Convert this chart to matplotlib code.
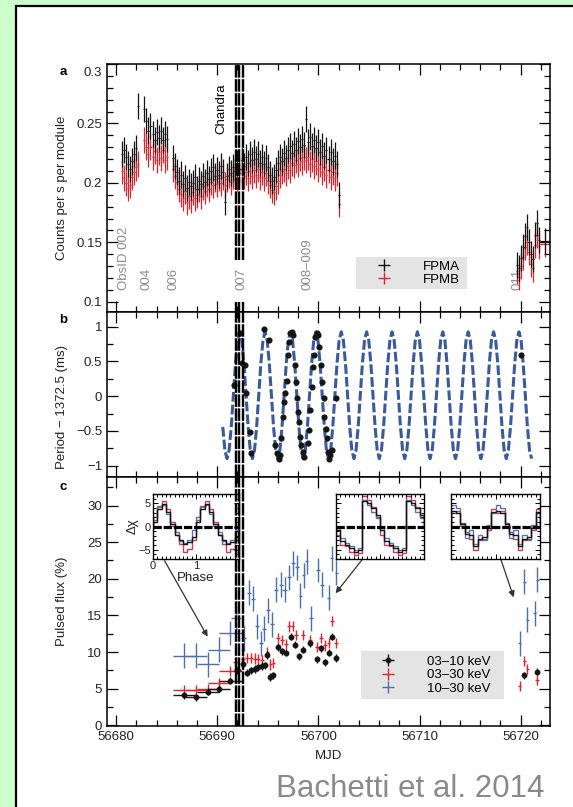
#!/usr/bin/env python3
"""
M82 X-2 NuSTAR timing figure (after Bachetti et al. 2014, Fig. 1)
a: light curve, b: pulse period vs orbit model, c: pulsed fraction
"""

import matplotlib
matplotlib.use('Agg')
import numpy as np
import matplotlib.pyplot as plt
from matplotlib.patches import Rectangle
from matplotlib.lines import Line2D
from matplotlib.legend_handler import HandlerTuple
from matplotlib.ticker import MultipleLocator, FuncFormatter

plt.rcParams['font.family'] = ['Liberation Sans', 'DejaVu Sans']
plt.rcParams['lines.scale_dashes'] = False

# ---------------- panel a: light curve ----------------
LC_MJD = [
    # ObsID 002
    56680.6, 56680.8, 56681.0, 56681.2, 56681.4, 56681.6, 56681.8, 56682.0, 56682.2,
    # 004
    56682.8, 56683.0, 56683.2, 56683.4, 56683.6, 56683.8, 56684.0, 56684.2, 56684.4,
    56684.6, 56684.8, 56685.0,
    # 006 - 009
    56685.6, 56685.8, 56686.0, 56686.2, 56686.4, 56686.6, 56686.8, 56687.0, 56687.2, 56687.4,
    56687.6, 56687.8, 56688.0, 56688.2, 56688.4, 56688.6, 56688.8, 56689.0, 56689.2, 56689.4,
    56689.6, 56689.8, 56690.0, 56690.2, 56690.4, 56690.6, 56690.8, 56691.0, 56691.2, 56691.4,
    56691.6, 56691.8, 56692.0, 56692.2, 56692.4, 56692.6, 56692.8, 56693.0, 56693.2, 56693.4,
    56693.6, 56693.8, 56694.0, 56694.2, 56694.4, 56694.6, 56694.8, 56695.0, 56695.2, 56695.4,
    56695.6, 56695.8, 56696.0, 56696.2, 56696.4, 56696.6, 56696.8, 56697.0, 56697.2, 56697.4,
    56697.6, 56697.8, 56698.0, 56698.2, 56698.4, 56698.6, 56698.8, 56699.0, 56699.2, 56699.4,
    56699.6, 56699.8, 56700.0, 56700.2, 56700.4, 56700.6, 56700.8, 56701.0, 56701.2, 56701.4,
    56701.6, 56701.8, 56702.0,
    # 011
    56719.6, 56719.8, 56720.0, 56720.2, 56720.4, 56720.6, 56720.8, 56721.0, 56721.2, 56721.4,
    56721.6, 56721.8, 56722.4,
]
FPMA_RATE = [
    0.224, 0.228, 0.222, 0.216, 0.212, 0.218, 0.224, 0.229, 0.265,
    0.262, 0.252, 0.244, 0.248, 0.241, 0.236, 0.243, 0.238, 0.244, 0.236, 0.241, 0.237,
    0.221, 0.214, 0.209, 0.202, 0.207, 0.199, 0.204, 0.196, 0.201, 0.197,
    0.200, 0.205, 0.195, 0.202, 0.199, 0.206, 0.201, 0.208, 0.203, 0.210,
    0.213, 0.206, 0.211, 0.207, 0.214, 0.209, 0.184, 0.206, 0.212, 0.208,
    0.213, 0.210, 0.217, 0.212, 0.219, 0.214, 0.222, 0.217, 0.224, 0.219,
    0.226, 0.220, 0.224, 0.217, 0.222, 0.216, 0.221, 0.213, 0.207, 0.202,
    0.205, 0.211, 0.217, 0.222, 0.218, 0.225, 0.221, 0.228, 0.231, 0.225,
    0.233, 0.228, 0.235, 0.230, 0.237, 0.232, 0.254, 0.234, 0.239, 0.231,
    0.236, 0.229, 0.234, 0.226, 0.231, 0.223, 0.228, 0.220, 0.226, 0.218,
    0.223, 0.216, 0.190,
    0.131, 0.128, 0.137, 0.146, 0.155, 0.163, 0.150, 0.140, 0.136, 0.156,
    0.166, 0.152, 0.151,
]
FPMB_RATE = [
    0.210, 0.204, 0.200, 0.196, 0.198, 0.205, 0.209, 0.213, 0.216,
    0.236, 0.230, 0.224, 0.230, 0.222, 0.227, 0.219, 0.226, 0.221, 0.228, 0.219, 0.222,
    0.212, 0.206, 0.201, 0.195, 0.191, 0.187, 0.193, 0.184, 0.189, 0.186,
    0.192, 0.187, 0.190, 0.195, 0.189, 0.197, 0.193, 0.199, 0.195, 0.201,
    0.198, 0.203, 0.199, 0.204, 0.200, 0.205, 0.198, 0.203, 0.207, 0.201,
    0.206, 0.210, 0.204, 0.208, 0.211, 0.206, 0.209, 0.204, 0.210, 0.206,
    0.211, 0.207, 0.212, 0.205, 0.209, 0.204, 0.208, 0.202, 0.198, 0.194,
    0.192, 0.197, 0.202, 0.207, 0.210, 0.212, 0.208, 0.214, 0.211, 0.217,
    0.215, 0.219, 0.216, 0.221, 0.218, 0.222, 0.219, 0.222, 0.216, 0.220,
    0.214, 0.218, 0.212, 0.216, 0.209, 0.213, 0.207, 0.211, 0.205, 0.209,
    0.204, 0.208, 0.182,
    0.126, 0.121, 0.130, 0.138, 0.146, 0.150, 0.142, 0.132, 0.128, 0.148,
    0.156, 0.147, 0.149,
]
LC_YERR = 0.011
LC_BIN_HALF = 0.1
LAST_BIN_HALF = 0.5

OBSIDS = ['ObsID 002', '004', '006', '007', '008\u2013009', '011']
OBSID_MJD = [56680.81, 56682.98, 56685.69, 56692.37, 56698.88, 56719.67]

CHANDRA_MJD = [56691.83, 56692.20, 56692.57]

# ---------------- panel b: period residuals ----------------
PERIOD_MJD = [
    56691.68, 56692.22, 56692.40, 56692.76, 56692.83, 56693.23, 56693.34,
    56694.64, 56695.11,
    56695.73, 56695.91, 56696.09, 56696.20,
    56696.31, 56696.49, 56696.63, 56696.74, 56696.85, 56696.96, 56697.10, 56697.21,
    56697.36, 56697.47,
    56697.65, 56697.83, 56697.90, 56698.01, 56698.12, 56698.19, 56698.30, 56698.44,
    56698.55,
    56698.98, 56699.09, 56699.20, 56699.35, 56699.46, 56699.56, 56699.71, 56699.85,
    56699.93,
    56700.07, 56700.22, 56700.36, 56700.51, 56700.58, 56700.72, 56700.83, 56700.98,
    56701.08, 56701.19, 56701.30,
    56701.74, 56720.08,
]
PERIOD_RES = [
    0.158, 0.901, 0.470, 0.446, 0.038, -0.514, -0.825,
    0.963, 0.805,
    -0.705, -0.825, -0.897, -0.849,
    -0.609, -0.298, -0.082, 0.052, 0.220, 0.589, 0.781, 0.915,
    0.925, 0.877,
    0.446, 0.206, -0.034, -0.226, -0.370, -0.585, -0.705, -0.801,
    -0.873,
    -0.681, -0.490, -0.202, 0.134, 0.422, 0.589, 0.853, 0.901,
    0.877,
    0.709, 0.446, 0.206, -0.034, -0.298, -0.466, -0.609, -0.801,
    -0.897, -0.849, -0.777,
    -0.034, 0.589,
]
PERIOD_ERR = 0.03

# orbital model, read every 1/12 of an orbit
MODEL_START, MODEL_END = 56690.547, 56721.085
PERIOD_MODEL = [
    -0.443, -0.777,
    -0.899, -0.777, -0.443, 0.013, 0.469, 0.803, 0.925, 0.803, 0.469, 0.013, -0.443, -0.777,
    -0.899, -0.777, -0.443, 0.013, 0.469, 0.803, 0.925, 0.803, 0.469, 0.013, -0.443, -0.777,
    -0.899, -0.777, -0.443, 0.013, 0.469, 0.803, 0.925, 0.803, 0.469, 0.013, -0.443, -0.777,
    -0.899, -0.777, -0.443, 0.013, 0.469, 0.803, 0.925, 0.803, 0.469, 0.013, -0.443, -0.777,
    -0.899, -0.777, -0.443, 0.013, 0.469, 0.803, 0.925, 0.803, 0.469, 0.013, -0.443, -0.777,
    -0.899, -0.777, -0.443, 0.013, 0.469, 0.803, 0.925, 0.803, 0.469, 0.013, -0.443, -0.777,
    -0.899, -0.777, -0.443, 0.013, 0.469, 0.803, 0.925, 0.803, 0.469, 0.013, -0.443, -0.777,
    -0.899, -0.777, -0.443, 0.013, 0.469, 0.803, 0.925, 0.803, 0.469, 0.013, -0.443, -0.777,
    -0.899, -0.777, -0.443, 0.013, 0.469, 0.803, 0.925, 0.803, 0.469, 0.013, -0.443, -0.777,
    -0.899, -0.777, -0.443, 0.013, 0.469, 0.803, 0.925, 0.803, 0.469, 0.013, -0.443, -0.777,
    -0.899, -0.777, -0.443, 0.013, 0.469, 0.803, 0.925, 0.803, 0.469, 0.013, -0.443, -0.777,
    -0.899, -0.777, -0.443, 0.013, 0.469, 0.803, 0.925, 0.803, 0.469, 0.013, -0.443, -0.777,
    -0.899,
]

# ---------------- panel c: pulsed fraction ----------------
PF_LO_MJD = [56686.7, 56687.9, 56689.1, 56690.2, 56691.3, 56692.0, 56692.5, 56692.9,
             56693.3, 56693.7, 56694.05, 56694.4, 56694.75, 56694.95, 56695.25, 56695.55,
             56696.0, 56696.4, 56696.8, 56697.25, 56697.7, 56698.1, 56698.5, 56699.2,
             56699.9, 56700.3, 56700.65, 56701.0, 56701.35, 56701.75, 56720.3, 56721.65]
PF_LO = [4.1, 3.8, 4.6, 5.0, 6.1, 7.5, 8.4, 7.2, 7.5, 7.7, 7.9, 8.1, 8.2, 9.6, 6.6, 6.8,
         10.7, 10.1, 9.9, 12.1, 11.0, 9.4, 10.3, 11.2, 9.0, 10.5, 8.6, 9.9, 12.1, 9.2, 6.8, 7.3]
PF_LO_XERR = [1.1, 1.1, 1.1, 1.1, 1.1, 0.3, 0.2, 0.2, 0.2, 0.2, 0.18, 0.18, 0.15, 0.15, 0.15,
              0.15, 0.2, 0.2, 0.2, 0.2, 0.2, 0.2, 0.2, 0.2, 0.2, 0.2, 0.18, 0.18, 0.18, 0.18,
              0.2, 0.2]

PF_MID_MJD = [56686.7, 56687.9, 56689.1, 56690.2, 56691.3, 56691.85, 56692.5, 56692.9,
              56693.3, 56693.7, 56694.05, 56694.4, 56694.95, 56695.25, 56695.55, 56696.0,
              56696.4, 56696.8, 56697.1, 56697.45, 56697.8, 56698.5, 56699.2, 56699.9,
              56700.3, 56700.65, 56701.0, 56701.35, 56701.75, 56719.9, 56720.35, 56720.65,
              56721.65]
PF_MID = [4.8, 4.8, 4.9, 5.8, 7.4, 8.6, 9.1, 9.2, 9.2, 9.1, 9.0, 8.9, 10.0, 8.3, 8.5, 11.9,
          11.6, 11.1, 13.5, 13.6, 12.3, 12.3, 11.6, 10.7, 11.9, 10.9, 11.2, 14.2, 11.2, 5.4,
          8.8, 7.7, 6.2]
PF_MID_XERR = [1.1, 1.1, 1.1, 1.1, 1.1, 0.3, 0.2, 0.2, 0.2, 0.2, 0.18, 0.18, 0.15, 0.15,
               0.15, 0.2, 0.2, 0.2, 0.18, 0.18, 0.18, 0.2, 0.2, 0.2, 0.2, 0.18, 0.18, 0.18,
               0.18, 0.15, 0.15, 0.15, 0.2]

PF_HI_MJD = [56686.7, 56687.9, 56689.1, 56690.2, 56691.3, 56691.85, 56692.6, 56693.1,
             56693.5, 56693.9, 56694.3, 56694.6, 56695.05, 56695.4, 56695.85, 56696.3,
             56696.65, 56697.1, 56697.5, 56697.9, 56698.2, 56698.55, 56698.85, 56699.3,
             56700.0, 56700.35, 56701.0, 56701.3, 56701.75, 56719.9, 56720.35, 56720.65,
             56721.4, 56721.65]
PF_HI = [9.5, 9.5, 8.3, 10.3, 12.6, 14.6, 11.9, 18.1, 17.3, 13.5, 11.2, 13.2, 15.7, 13.8,
         18.5, 19.2, 18.5, 20.2, 22.1, 21.6, 17.7, 20.5, 22.4, 14.6, 21.2, 19.2, 17.4, 22.8,
         20.8, 11.2, 19.6, 14.4, 15.3, 19.9]
PF_HI_XERR = [1.1, 1.1, 1.1, 1.1, 1.1, 0.5, 0.25, 0.2, 0.2, 0.2, 0.2, 0.2, 0.2, 0.2, 0.2,
              0.2, 0.2, 0.2, 0.2, 0.2, 0.15, 0.15, 0.15, 0.2, 0.2, 0.2, 0.15, 0.15, 0.15,
              0.15, 0.15, 0.15, 0.15, 0.15]

PF_LO_ERR, PF_MID_ERR, PF_HI_ERR = 0.5, 0.7, 1.7

# pulse profiles in the insets (Delta chi per phase bin, two cycles)
PHASE_EDGES = [0.0, 0.1, 0.2, 0.3, 0.4, 0.5, 0.6, 0.7, 0.8, 0.9, 1.0,
               1.1, 1.2, 1.3, 1.4, 1.5, 1.6, 1.7, 1.8, 1.9, 2.0]
PROF1_LO = [1.0, 3.8, 4.8, 3.2, 0.6, -1.8, -3.0, -3.8, -3.4, -2.2,
            1.0, 3.8, 4.8, 3.2, 0.6, -1.8, -3.0, -3.8, -3.4, -2.2]
PROF1_MID = [1.5, 4.5, 5.5, 3.8, 1.0, -1.8, -3.8, -5.4, -4.8, -3.0,
             1.5, 4.5, 5.5, 3.8, 1.0, -1.8, -3.8, -5.4, -4.8, -3.0]
PROF1_HI = [2.0, 4.2, 4.6, 2.6, 0.2, -1.2, -3.2, -3.6, -2.8, -0.8,
            2.0, 4.2, 4.6, 2.6, 0.2, -1.2, -3.2, -3.6, -2.8, -0.8]
PROF2_LO = [-0.7, -3.2, -3.9, -4.6, -5.4, -5.0, 5.4, 5.0, 3.9, 2.5,
            -0.7, -3.2, -3.9, -4.6, -5.4, -5.0, 5.4, 5.0, 3.9, 2.5]
PROF2_MID = [-1.8, -3.9, -4.3, -5.4, -6.1, -5.8, 6.6, 5.7, 4.3, 2.1,
             -1.8, -3.9, -4.3, -5.4, -6.1, -5.8, 6.6, 5.7, 4.3, 2.1]
PROF2_HI = [-0.4, -2.5, -3.6, -4.3, -5.0, -4.6, 5.7, 4.6, 3.2, 1.8,
            -0.4, -2.5, -3.6, -4.3, -5.0, -4.6, 5.7, 4.6, 3.2, 1.8]
PROF3_LO = [3.4, 3.0, 0.6, -1.6, -1.8, -4.2, -2.6, -2.2, -0.4, 3.2,
            3.4, 3.0, 0.6, -1.6, -1.8, -4.2, -2.6, -2.2, -0.4, 3.2]
PROF3_MID = [3.0, 3.4, 0.8, -1.2, -2.6, -5.0, -3.0, -2.6, -0.8, 3.8,
             3.0, 3.4, 0.8, -1.2, -2.6, -5.0, -3.0, -2.6, -0.8, 3.8]
PROF3_HI = [4.6, 4.0, 0.2, -2.4, -0.8, -3.8, -1.8, -3.0, 0.4, 3.0,
            4.6, 4.0, 0.2, -2.4, -0.8, -3.8, -1.8, -3.0, 0.4, 3.0]

# inset boxes (MJD, pulsed flux) and arrows pointing to the matching data
INSET_BOXES = [(56683.65, 22.7, 8.51, 8.875),
               (56701.75, 22.7, 8.70, 8.875),
               (56713.13, 22.7, 8.80, 8.875)]
INSET_ARROWS = [((56684.79, 22.47), (56689.05, 12.09)),
                ((56704.30, 22.57), (56701.70, 18.02)),
                ((56718.04, 22.66), (56719.31, 17.47))]

# colours
BLACK = '#151515'
RED = '#e2222c'
BLUE = '#4d70a8'
MODEL_BLUE = '#3a5a9c'
INSET_RED = '#c93a5c'
INSET_BLUE = '#5678ad'
GREY_TXT = '#8c8c8c'
TICK_TXT = '#222222'


def fmt_num(v, pos):
    s = '%g' % round(v, 4)
    return s.replace('-', '\u2212')


def fmt_a(v, pos):
    # the 0.3 label is drawn by hand a little below the top spine
    if v > 0.295:
        return ''
    return fmt_num(v, pos)


def fmt_phase(v, pos):
    # the "2" sits under the Chandra band in the original
    return '' if v > 1.5 else fmt_num(v, pos)


def style(ax):
    ax.tick_params(which='both', direction='in', top=True, right=True,
                   width=0.9, color='black', labelcolor=TICK_TXT,
                   labelsize=9.5, pad=3.5)
    ax.tick_params(which='major', length=8)
    ax.tick_params(which='minor', length=4.5)
    for sp in ax.spines.values():
        sp.set_linewidth(1.1)


def band(ax):
    for x in CHANDRA_MJD:
        ax.axvline(x, color='black', lw=1.75, ls=(0, (9, 1.1)), zorder=6)


def inset(ax, box, lo, mid, hi, labels):
    ins = ax.inset_axes(box, transform=ax.transData)
    ins.stairs(mid, PHASE_EDGES, color=INSET_RED, lw=1.0)
    ins.stairs(hi, PHASE_EDGES, color=INSET_BLUE, lw=1.0)
    ins.stairs(lo, PHASE_EDGES, color=BLACK, lw=1.0)
    ins.axhline(0, color='black', lw=2.3, ls=(0, (6, 1.3)))
    ins.set_xlim(0, 2)
    ins.set_ylim(-7, 7)
    ins.xaxis.set_major_locator(MultipleLocator(1))
    ins.xaxis.set_minor_locator(MultipleLocator(0.1))
    ins.yaxis.set_major_locator(MultipleLocator(5))
    ins.yaxis.set_minor_locator(MultipleLocator(1))
    ins.xaxis.set_major_formatter(FuncFormatter(fmt_phase))
    ins.yaxis.set_major_formatter(FuncFormatter(fmt_num))
    ins.tick_params(which='both', direction='in', top=True, right=True,
                    width=0.7, labelsize=8, labelcolor=TICK_TXT, pad=1.5)
    ins.tick_params(which='major', length=3.5)
    ins.tick_params(which='minor', length=2)
    for sp in ins.spines.values():
        sp.set_linewidth(1.0)
    if labels:
        ins.set_xlabel('Phase', fontsize=9.5, labelpad=1, color=TICK_TXT)
        ins.set_ylabel('\u0394\u03c7', fontsize=9.5, labelpad=0, color=TICK_TXT)
    else:
        ins.tick_params(labelleft=False, labelbottom=False)
    return ins


def main():
    fig = plt.figure(figsize=(5.73, 8.07), dpi=100)
    fig.patch.set_facecolor('#ccffcc')
    fig.add_artist(Rectangle((15.5 / 573, -0.1), 1.2, 1.1 - 6.5 / 807,
                             transform=fig.transFigure, facecolor='white',
                             edgecolor='black', linewidth=1.6, zorder=-5))

    left, width, H = 107 / 573, 443 / 573, 807
    ax_a = fig.add_axes([left, 1 - 312 / H, width, 248 / H])
    ax_b = fig.add_axes([left, 1 - 477 / H, width, 165 / H], sharex=ax_a)
    ax_c = fig.add_axes([left, 1 - 726 / H, width, 249 / H], sharex=ax_a)
    for ax in (ax_a, ax_b, ax_c):
        style(ax)
    ax_a.xaxis.set_major_locator(MultipleLocator(10))
    ax_a.xaxis.set_minor_locator(MultipleLocator(2))
    ax_a.set_xlim(56679.1, 56722.9)
    ax_a.tick_params(labelbottom=False)
    ax_b.tick_params(labelbottom=False)

    # ---- a
    a_ylim = (0.0914, 0.300)
    lc_xerr = [LC_BIN_HALF] * (len(LC_MJD) - 1) + [LAST_BIN_HALF]
    ax_a.errorbar(LC_MJD, FPMB_RATE, yerr=LC_YERR, xerr=lc_xerr, fmt='none',
                  ecolor=RED, elinewidth=0.9, capsize=0, zorder=2)
    ax_a.errorbar(LC_MJD, FPMA_RATE, yerr=LC_YERR, xerr=lc_xerr, fmt='none',
                  ecolor=BLACK, elinewidth=0.9, capsize=0, zorder=2.1)
    ax_a.set_ylim(*a_ylim)
    ax_a.yaxis.set_major_locator(MultipleLocator(0.05))
    ax_a.yaxis.set_minor_locator(MultipleLocator(0.01))
    ax_a.yaxis.set_major_formatter(FuncFormatter(fmt_a))
    ax_a.annotate('0.3', xy=(0, 0.3), xycoords=ax_a.get_yaxis_transform(),
                  xytext=(-3.5, -6.5), textcoords='offset points',
                  ha='right', va='center', fontsize=9.5, color=TICK_TXT)
    band_kw = dict(colors='black', linewidths=1.75, linestyles=[(0, (9, 1.1))], zorder=6)
    ax_a.vlines(CHANDRA_MJD, 0.135, a_ylim[1], **band_kw)
    ax_a.vlines(CHANDRA_MJD, a_ylim[0], 0.100, **band_kw)
    ax_a.text(56690.38, 0.241, 'Chandra', rotation=90, ha='center', va='bottom',
              fontsize=9.5, color='black')
    for lab, t in zip(OBSIDS, OBSID_MJD):
        ax_a.text(t, 0.1098, lab, rotation=90, ha='center', va='bottom',
                  fontsize=9.5, color=GREY_TXT, zorder=1)
    ax_a.add_patch(Rectangle((0.562, 0.093), 0.251, 0.129, transform=ax_a.transAxes,
                             facecolor='#e4e4e4', edgecolor='none', zorder=3))
    h_a = [Line2D([], [], ls='none', marker='+', ms=9, mew=1.0, color=c)
           for c in (BLACK, RED)]
    leg = ax_a.legend(h_a, ['FPMA', 'FPMB'], loc='center left',
                      bbox_to_anchor=(0.562, 0.1575), frameon=False, fontsize=9.5,
                      handlelength=3.4, handletextpad=1.3, labelspacing=0.05,
                      borderpad=0.4, borderaxespad=0)
    leg.set_zorder(4)
    ax_a.set_ylabel('Counts per s per module', fontsize=9.5, color=TICK_TXT)
    ax_a.yaxis.set_label_coords(-0.088, 0.5)

    # ---- b
    model_t = np.linspace(MODEL_START, MODEL_END, len(PERIOD_MODEL))
    ax_b.plot(model_t, PERIOD_MODEL, color=MODEL_BLUE, lw=2.2, ls=(0, (7, 2.2)), zorder=2)
    ax_b.errorbar(PERIOD_MJD, PERIOD_RES, yerr=PERIOD_ERR, fmt='o', ms=3.4,
                  color=BLACK, elinewidth=0.8, capsize=0, zorder=3)
    ax_b.set_ylim(-1.163, 1.21)
    ax_b.yaxis.set_major_locator(MultipleLocator(0.5))
    ax_b.yaxis.set_minor_locator(MultipleLocator(0.25))
    ax_b.yaxis.set_major_formatter(FuncFormatter(fmt_num))
    band(ax_b)
    ax_b.set_ylabel('Period \u2212 1372.5 (ms)', fontsize=9.5, color=TICK_TXT)
    ax_b.yaxis.set_label_coords(-0.088, 0.427)

    # ---- c
    ax_c.errorbar(PF_HI_MJD, PF_HI, yerr=PF_HI_ERR, xerr=PF_HI_XERR, fmt='none',
                  ecolor=BLUE, elinewidth=1.0, capsize=0, zorder=2)
    ax_c.errorbar(PF_MID_MJD, PF_MID, yerr=PF_MID_ERR, xerr=PF_MID_XERR, fmt='none',
                  ecolor=RED, elinewidth=1.0, capsize=0, zorder=2.1)
    ax_c.errorbar(PF_LO_MJD, PF_LO, yerr=PF_LO_ERR, xerr=PF_LO_XERR, fmt='o', ms=3.2,
                  color=BLACK, elinewidth=1.0, capsize=0, zorder=2.2)
    ax_c.set_ylim(-0.1, 33.9)
    ax_c.yaxis.set_major_locator(MultipleLocator(5))
    ax_c.yaxis.set_minor_locator(MultipleLocator(2.5))
    ax_c.yaxis.set_major_formatter(FuncFormatter(fmt_num))
    ax_c.xaxis.set_major_formatter(FuncFormatter(lambda v, p: '%d' % round(v)))
    band(ax_c)
    ax_c.set_ylabel('Pulsed flux (%)', fontsize=9.5, color=TICK_TXT)
    ax_c.yaxis.set_label_coords(-0.088, 0.5)
    ax_c.set_xlabel('MJD', fontsize=9.5, color=TICK_TXT, labelpad=5)

    profiles = [(PROF1_LO, PROF1_MID, PROF1_HI),
                (PROF2_LO, PROF2_MID, PROF2_HI),
                (PROF3_LO, PROF3_MID, PROF3_HI)]
    for i, (box, prof) in enumerate(zip(INSET_BOXES, profiles)):
        inset(ax_c, box, *prof, labels=(i == 0))
    for tail, head in INSET_ARROWS:
        ax_c.annotate('', xy=head, xytext=tail,
                      arrowprops=dict(arrowstyle='-|>', color='#333333', lw=0.9,
                                      mutation_scale=9, shrinkA=0, shrinkB=0))

    ax_c.add_patch(Rectangle((0.5734, 0.1072), 0.322, 0.194, transform=ax_c.transAxes,
                             facecolor='#e4e4e4', edgecolor='none', zorder=3))
    plus = [Line2D([], [], ls='none', marker='+', ms=9, mew=1.0, color=c)
            for c in (BLACK, RED, BLUE)]
    dot = Line2D([], [], ls='none', marker='o', ms=3.2, color=BLACK)
    leg_c = ax_c.legend([(plus[0], dot), plus[1], plus[2]],
                        ['03\u201310 keV', '03\u201330 keV', '10\u201330 keV'],
                        handler_map={tuple: HandlerTuple(ndivide=1)},
                        loc='center left', bbox_to_anchor=(0.5734, 0.2042),
                        frameon=False, fontsize=9.5, handlelength=3.3,
                        handletextpad=1.3, labelspacing=0.08, borderpad=0.4,
                        borderaxespad=0)
    leg_c.set_zorder(4)

    # panel letters
    for ax, lab, y in ((ax_a, 'a', 0.968), (ax_b, 'b', 0.952), (ax_c, 'c', 0.96)):
        ax.text(-0.0993, y, lab, transform=ax.transAxes, ha='center', va='center',
                fontsize=9.5, fontweight='bold', color='black')

    fig.text(544 / 573, 1 - 797.3 / 807, 'Bachetti et al. 2014', ha='right',
             va='baseline', fontsize=22.5, color='#8a8a8a')

    fig.savefig('out.png', dpi=100, facecolor=fig.get_facecolor())


if __name__ == "__main__":
    main()
